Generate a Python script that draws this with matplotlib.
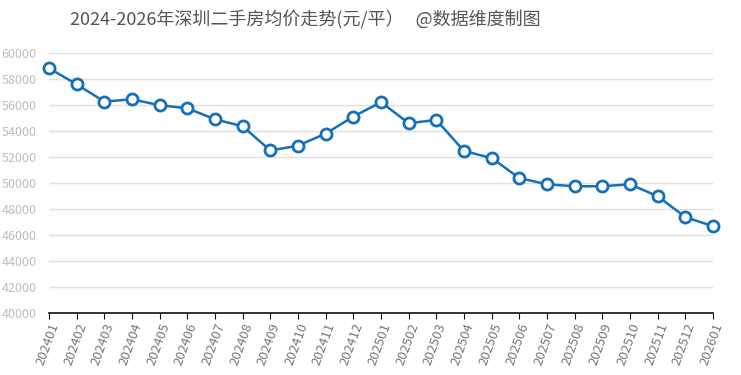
import matplotlib
matplotlib.use("Agg")
import matplotlib.pyplot as plt

plt.rcParams['font.family'] = ['Noto Sans CJK SC', 'DejaVu Sans']

# 月份与均价(元/平)
months = ["202401", "202402", "202403", "202404", "202405", "202406", "202407",
          "202408", "202409", "202410", "202411", "202412", "202501", "202502",
          "202503", "202504", "202505", "202506", "202507", "202508", "202509",
          "202510", "202511", "202512", "202601"]
prices = [58830, 57590, 56260, 56440, 55980, 55750, 54900, 54360, 52500, 52870,
          53800, 55110, 56220, 54600, 54850, 52460, 51920, 50380, 49900, 49750,
          49750, 49900, 48980, 47380, 46670]
y_ticks = list(range(40000, 60001, 2000))

title = "2024-2026年深圳二手房均价走势(元/平）   @数据维度制图"

fig = plt.figure(figsize=(7.41, 3.75), dpi=100)
ax = fig.add_axes([49 / 741, 1 - 313 / 375, (713 - 49) / 741, (313 - 53) / 375])

x = list(range(len(months)))
ax.plot(x, prices, color="#1570b8", linewidth=1.8, marker="o", markersize=8,
        markerfacecolor="white", markeredgecolor="#1570b8", markeredgewidth=2,
        clip_on=False, zorder=3)

ax.set_xlim(0, len(months) - 1)
ax.set_ylim(40000, 60000)
ax.set_yticks(y_ticks)
ax.set_yticklabels([str(v) for v in y_ticks], color="#bdbdbd", fontsize=9)
ax.set_xticks(x)
ax.set_xticklabels(months, rotation=70, ha="right", rotation_mode="anchor",
                   color="#777777", fontsize=9.5)

ax.grid(axis="y", color="#e0e0e0", linewidth=1)
ax.set_axisbelow(True)
for side in ["top", "right", "left"]:
    ax.spines[side].set_visible(False)
ax.spines["bottom"].set_color("#111111")
ax.spines["bottom"].set_linewidth(1.2)
ax.tick_params(axis="y", length=0, pad=9)
ax.tick_params(axis="x", length=4, color="#111111", pad=2)

fig.text(70 / 741, 1 - 20 / 375, title, fontsize=13, color="#555555",
         ha="left", va="center")

fig.savefig("out.png", dpi=100)
